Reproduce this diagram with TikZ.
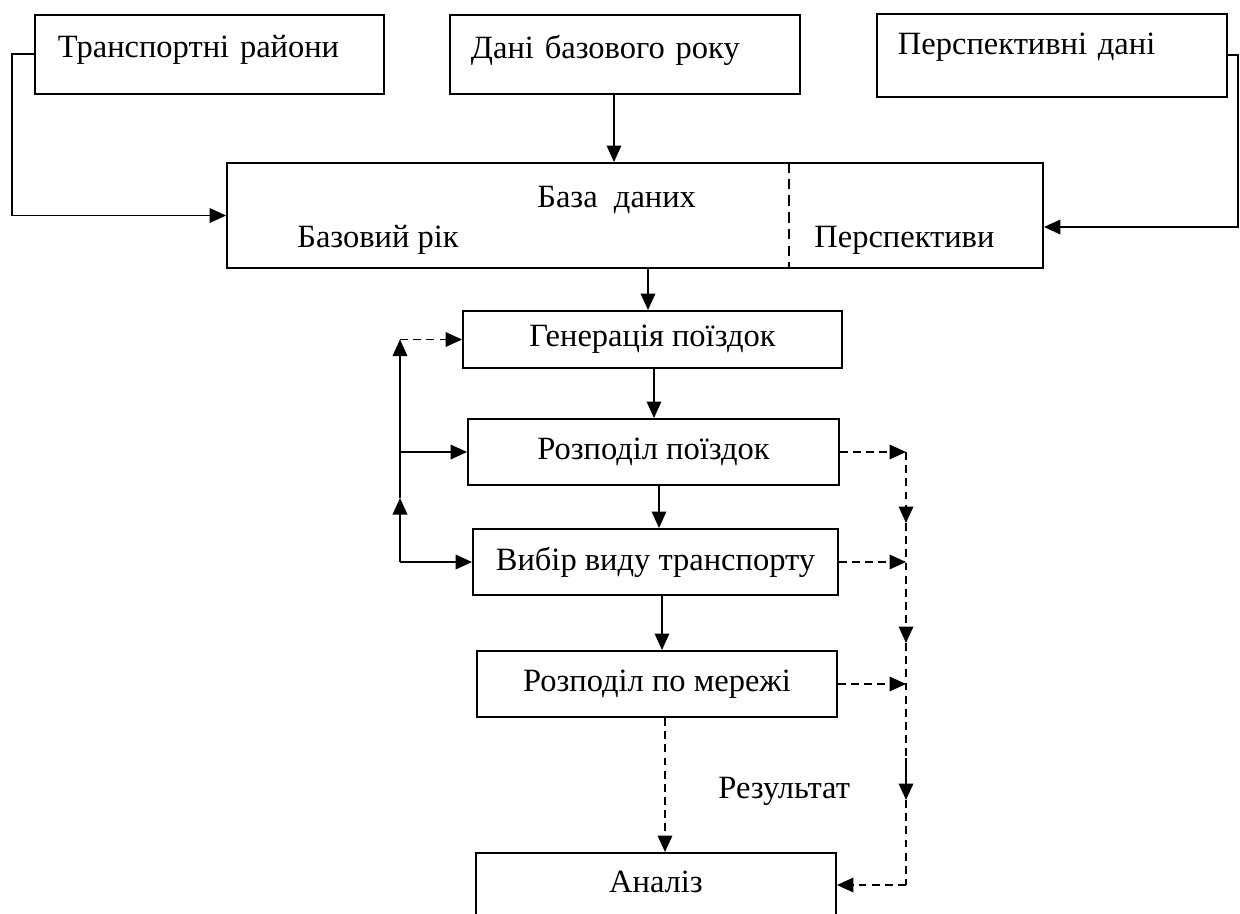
\documentclass[tikz,border=0pt]{standalone}
\usepackage{fontspec}
\setmainfont{Liberation Serif}
\usetikzlibrary{arrows.meta,positioning}

\begin{document}
\begin{tikzpicture}[x=0.02cm,y=-0.02cm,% one unit is one pixel of the page, y runs down
					every node/.style={
						font=\fontsize{18.5pt}{22pt}\selectfont,
						inner sep=0pt		% sizes below are the outer sizes of the boxes
						},
					box/.style={rectangle,draw=black,line width=1.1pt},
					topbox/.style={box,anchor=north west,align=left,inner xsep=0.42cm},
					flow/.style={draw,line width=1.1pt,-{Triangle[length=0.33cm,width=0.29cm]}},
					every edge/.style={flow},
					dsh/.style={dash pattern=on 4.5pt off 3pt}
					]
\useasboundingbox (0,0) rectangle (1240,913);
\clip (0,0) rectangle (1240,913);

% input data
\node[topbox,inner xsep=0.46cm,text width=6.06cm,text height=0.86cm,text depth=0.72cm](R1) at (34,14){Транспортні райони};
\node[topbox,text width=6.16cm,text height=0.88cm,text depth=0.7cm](R2) at (449,14){Дані базового року};
\node[topbox,text width=6.16cm,text height=0.82cm,text depth=0.84cm](R3) at (876,13){Перспективні дані};

% data base with its two parts
\node[box,minimum width=16.32cm,minimum height=2.1cm](R4) at (635,215.5){};
\node[anchor=base west](R4a) at (537,207){База\ \ даних};
\node[anchor=base west](R4b) at (297,247){Базовий рік};
\node[anchor=base west](R4c) at (814,247){Перспективи};
\coordinate (C0) at (789,0);
\draw[line width=1.1pt,dash pattern=on 6pt off 3.5pt] (R4.north -| C0) -- (R4.south -| C0);

% model steps
\node[box,minimum width=7.58cm,minimum height=1.14cm](R5) at (652.5,339.5){Генерація поїздок};
\node[box,minimum width=7.42cm,minimum height=1.32cm](R6) at (653.5,452){Розподіл поїздок};
\node[box,minimum width=7.3cm,minimum height=1.32cm](R7) at (655.5,562){Вибір виду транспорту};
\node[box,minimum width=7.2cm,minimum height=1.32cm](R8) at (657,684){Розподіл по мережі};
\node[box,anchor=north,minimum width=7.2cm,text height=0.8cm,text depth=1.2cm](R9) at (656,852){Аналіз};
\node[anchor=base west](R10) at (718,798){Результат};

% inputs into the data base
\coordinate (C1) at (614,93);
\coordinate (C9) at (1238,0);
\coordinate (C10) at ([yshift=-0.23cm]R4.east);
\draw[flow] (R1.west) -- ++(-22,0) |- (R4.west);
\draw[flow] (R3.east) -- (R3.east -| C9) |- (C10);

% main chain
\coordinate (C11) at (648,0);
\coordinate (C15) at (654,0);
\coordinate (C12) at (659,0);
\coordinate (C13) at (662,0);
\coordinate (C14) at (665,0);
\path
(C1) edge (C1 |- R4.north)
(R4.south -| C11) edge (R5.north -| C11)
(R5.south -| C15) edge (R6.north -| C15)
(R6.south -| C12) edge (R7.north -| C12)
(R7.south -| C13) edge (R8.north -| C13)
(R8.south -| C14) edge[dsh] (R9.north -| C14)
;

% feedback on the left
\coordinate (C2) at (400,562);
\coordinate (C3) at (400,498);
\path
(C2) edge (R7.west)
(C2) edge (C3)
(C3) edge (C3 |- R5.west)
(C3 |- R6.west) edge (R6.west)
(C3 |- R5.west) edge[dsh] (R5.west)
;

% results on the right
\coordinate (C4) at (906,523);
\coordinate (C5) at (906,643);
\coordinate (C6) at (906,758);
\coordinate (C7) at (906,800);
\coordinate (C8) at (906,885);
\path
(R6.east) edge[dsh] (R6.east -| C4)
(R6.east -| C4) edge[dsh] (C4)
(R7.east) edge[dsh] (R7.east -| C4)
(C4) edge[dsh] (C5)
(R8.east) edge[dsh] (R8.east -| C4)
(C6) edge (C7)
(C8) edge[dsh] (C8 -| R9.east)
;
\draw[line width=1.1pt,dsh] (C5) -- (C6);
\draw[line width=1.1pt,dsh] (C7) -- (C8);
\end{tikzpicture}
\end{document}
